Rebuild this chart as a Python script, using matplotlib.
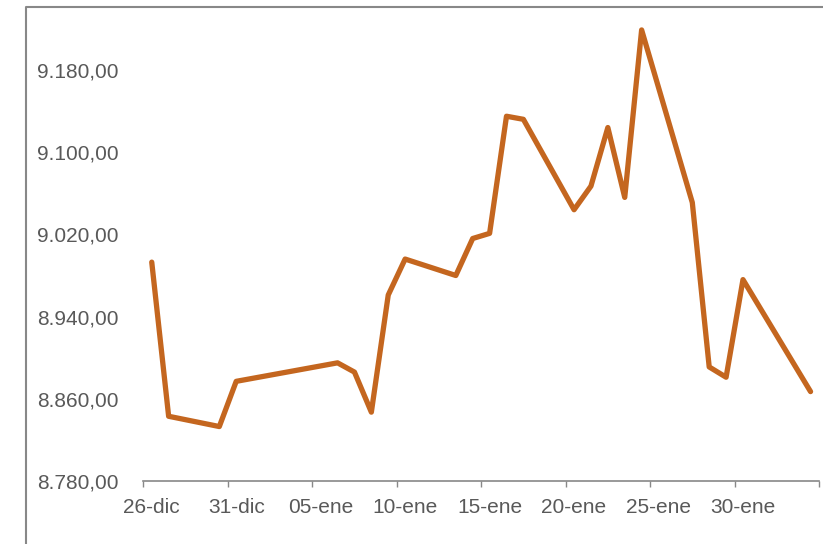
import matplotlib.pyplot as plt
import pandas as pd

# serie diaria
fechas = ["2019-12-26", "2019-12-27", "2019-12-30", "2019-12-31",
          "2020-01-06", "2020-01-07", "2020-01-08", "2020-01-09", "2020-01-10",
          "2020-01-13", "2020-01-14", "2020-01-15", "2020-01-16", "2020-01-17",
          "2020-01-20", "2020-01-21", "2020-01-22", "2020-01-23", "2020-01-24",
          "2020-01-27", "2020-01-28", "2020-01-29", "2020-01-30", "2020-02-03"]
valores = [8993, 8843, 8833, 8877,
           8895, 8886, 8847, 8961, 8996,
           8980, 9016, 9021, 9135, 9132,
           9044, 9067, 9124, 9056, 9219,
           9051, 8891, 8881, 8976, 8867]

etiquetas_x = ["26-dic", "31-dic", "05-ene", "10-ene", "15-ene", "20-ene", "25-ene", "30-ene"]
yticks = [8780, 8860, 8940, 9020, 9100, 9180]

inicio = pd.Timestamp("2019-12-26")
fin = pd.Timestamp("2020-02-04")
dias = [(d - inicio).days + 0.5 for d in pd.to_datetime(fechas)]
total = (fin - inicio).days

GRIS = "#595959"
LINEA = "#888888"

plt.rcParams['font.family'] = ['Liberation Sans', 'DejaVu Sans']

fig = plt.figure(figsize=(8.23, 5.44), dpi=100)
ax = fig.add_axes([143.3 / 823, 1 - 481 / 544, (819 - 143.3) / 823, (481 - 7) / 544])

ax.plot(dias, valores, color="#C4661F", lw=3.8, solid_joinstyle="round", solid_capstyle="round")

ax.set_xlim(0, total)
ax.set_ylim(8780, 8780 + (481 - 7) / 1.0275)

# ticks en el limite de cada 5 dias, etiqueta centrada en el dia
ax.set_xticks(range(0, total + 1, 5))
ax.set_xticklabels([])
ax.set_xticks([i * 5 + 0.5 for i in range(len(etiquetas_x))], minor=True)
ax.set_xticklabels(etiquetas_x, minor=True)
ax.tick_params(axis="x", which="major", length=4.5, width=1, color=LINEA, direction="out")
ax.tick_params(axis="x", which="minor", length=0, pad=12, labelsize=15, labelcolor=GRIS)

ax.set_yticks(yticks)
ax.set_yticklabels([f"{v:,.2f}".replace(",", "X").replace(".", ",").replace("X", ".") for v in yticks])
ax.tick_params(axis="y", length=0, pad=18, labelsize=15, labelcolor=GRIS)

for s in ["top", "right", "left"]:
    ax.spines[s].set_visible(False)
ax.spines["bottom"].set_color(LINEA)
ax.spines["bottom"].set_linewidth(1.2)

# borde del area del grafico
fig.add_artist(plt.Line2D([26 / 823, 26 / 823, 1], [0, 1 - 7 / 544, 1 - 7 / 544],
                          transform=fig.transFigure, color=LINEA, lw=1.5))

fig.savefig("out.png", dpi=100)
